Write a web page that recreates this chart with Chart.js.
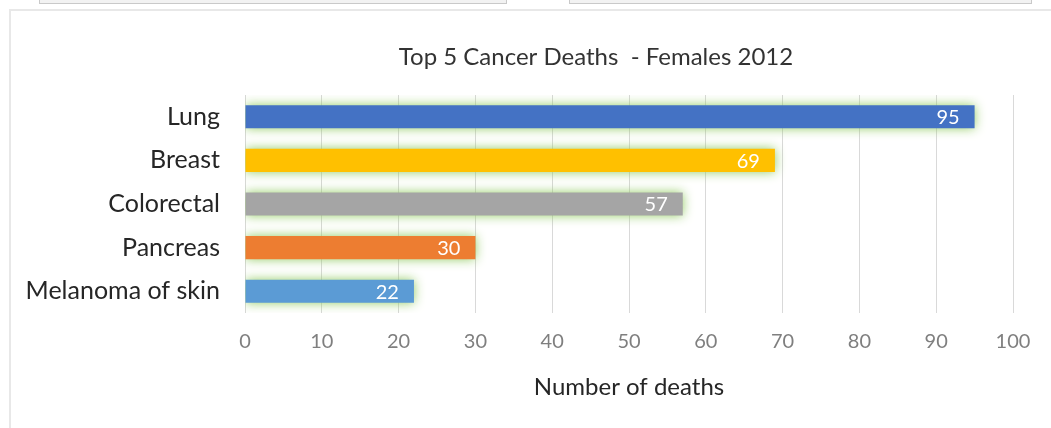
<!DOCTYPE html>
<html>
<head>
<meta charset="utf-8">
<script src="https://cdn.jsdelivr.net/npm/chart.js@4.4.0/dist/chart.umd.min.js"></script>
<style>
  body { margin: 0; background: #fff; width: 1051px; height: 428px; overflow: hidden; position: relative; }
  .tab { position: absolute; top: -10px; height: 12px; background: #f2f2f2; border: 1px solid #c9c9c9; }
  .frame { position: absolute; left: 9px; top: 9px; width: 1100px; height: 500px; border: 2px solid #e8e8e8; }
  .chart-box { position: absolute; left: 0; top: 0; width: 1051px; height: 428px; }
</style>
</head>
<body>
<div class="tab" style="left:39px; width:466px;"></div>
<div class="tab" style="left:569px; width:461px;"></div>
<div class="frame"></div>
<div class="chart-box"><canvas class="bar-chart" width="1051" height="428"></canvas></div>
<script>
const categories = ['Lung', 'Breast', 'Colorectal', 'Pancreas', 'Melanoma of skin'];
const deaths = [95, 69, 57, 30, 22];
const barColors = ['#4472C4', '#FFC000', '#A5A5A5', '#ED7D31', '#5B9BD5'];
const xTicks = [0, 10, 20, 30, 40, 50, 60, 70, 80, 90, 100];
const chartTitle = 'Top 5 Cancer Deaths  - Females 2012';
const axisTitle = 'Number of deaths';

const fontFamily = 'Lato, "Open Sans", sans-serif';

// green glow round the bars
const glowPlugin = {
    id: 'glow',
    beforeDatasetsDraw(chart) {
        const ctx = chart.ctx;
        ctx.save();
        ctx.shadowColor = 'rgba(140, 200, 90, 0.95)';
        ctx.shadowBlur = 11;
        ctx.shadowOffsetX = 0;
        ctx.shadowOffsetY = 0;
    },
    afterDatasetsDraw(chart) {
        chart.ctx.restore();
    }
};

// values inside the bar ends, and the chart title
const labelPlugin = {
    id: 'labels',
    afterDatasetsDraw(chart) {
        const ctx = chart.ctx;
        const meta = chart.getDatasetMeta(0);
        ctx.save();
        ctx.font = '20px ' + fontFamily;
        ctx.fillStyle = '#ffffff';
        ctx.textAlign = 'right';
        ctx.textBaseline = 'middle';
        meta.data.forEach((bar, i) => {
            ctx.fillText(deaths[i], bar.x - 15, bar.y + 1);
        });
        ctx.restore();
    },
    afterDraw(chart) {
        const ctx = chart.ctx;
        ctx.save();
        ctx.font = '24px ' + fontFamily;
        ctx.fillStyle = '#333333';
        ctx.textAlign = 'center';
        ctx.textBaseline = 'middle';
        ctx.fillText(chartTitle, 596, 57);
        ctx.restore();
    }
};

const ctx = document.querySelector('.bar-chart').getContext('2d');
new Chart(ctx, {
    type: 'bar',
    data: {
        labels: categories,
        datasets: [{
            data: deaths,
            backgroundColor: barColors,
            borderWidth: 0,
            barPercentage: 0.53,
            categoryPercentage: 1
        }]
    },
    options: {
        indexAxis: 'y',
        responsive: false,
        animation: false,
        maintainAspectRatio: false,
        layout: { padding: { top: 95, right: 38, left: 0, bottom: 0 } },
        plugins: {
            legend: { display: false },
            title: { display: false },
            tooltip: { enabled: false }
        },
        scales: {
            x: {
                min: 0,
                max: 100,
                afterBuildTicks(axis) {
                    axis.ticks = xTicks.map(v => ({ value: v }));
                },
                afterFit(axis) { axis.height = 115; },
                grid: { color: '#d9d9d9', lineWidth: 1, drawTicks: false },
                border: { display: false },
                ticks: {
                    padding: 17,
                    color: '#7f7f7f',
                    font: { family: fontFamily, size: 20 }
                },
                title: {
                    display: true,
                    text: axisTitle,
                    color: '#262626',
                    font: { family: fontFamily, size: 24 },
                    padding: { top: 0, bottom: 26 }
                }
            },
            y: {
                afterFit(axis) { axis.width = 245; },
                grid: { display: false, drawTicks: false },
                border: { display: false },
                ticks: {
                    padding: 25,
                    color: '#262626',
                    font: { family: fontFamily, size: 25 }
                }
            }
        }
    },
    plugins: [glowPlugin, labelPlugin]
});
</script>
</body>
</html>
